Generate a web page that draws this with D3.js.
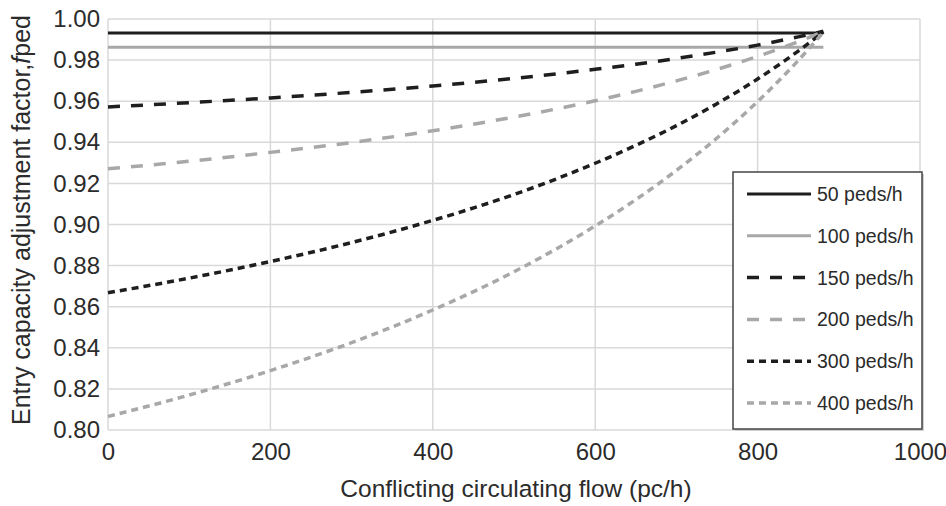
<!DOCTYPE html>
<html>
<head>
<meta charset="utf-8">
<script src="https://cdn.jsdelivr.net/npm/d3@7"></script>
<style>
  html, body { margin: 0; padding: 0; background: #fff; }
  svg { display: block; font-family: "Liberation Sans", Arial, sans-serif; }
</style>
</head>
<body>
<svg id="chart" width="946" height="506"></svg>
<script>
// ---- data ----
const flows = [0, 100, 200, 300, 400, 500, 600, 650, 700, 750, 800, 850, 881];
const flowsFlat = [0, 881];
const peds50  = [0.9932, 0.9932];
const peds100 = [0.9863, 0.9863];
const peds150 = [0.9572, 0.9593, 0.9616, 0.9643, 0.9674, 0.9711, 0.9755, 0.9780, 0.9808, 0.9839, 0.9873, 0.9913, 0.9940];
const peds200 = [0.9271, 0.9308, 0.9351, 0.9399, 0.9456, 0.9523, 0.9602, 0.9648, 0.9699, 0.9755, 0.9818, 0.9890, 0.9939];
const peds300 = [0.8668, 0.8739, 0.8820, 0.8912, 0.9020, 0.9146, 0.9298, 0.9385, 0.9481, 0.9588, 0.9708, 0.9844, 0.9937];
const peds400 = [0.8066, 0.8170, 0.8289, 0.8425, 0.8584, 0.8770, 0.8993, 0.9121, 0.9263, 0.9421, 0.9598, 0.9798, 0.9935];
const seriesNames = ["50 peds/h", "100 peds/h", "150 peds/h", "200 peds/h", "300 peds/h", "400 peds/h"];
const xTicks = [0, 200, 400, 600, 800, 1000];
const yTicks = [0.80, 0.82, 0.84, 0.86, 0.88, 0.90, 0.92, 0.94, 0.96, 0.98, 1.00];

(function () {
// ---- styles ----
const styles = [
  { color: "#1e1e1e", width: 3,   dash: null },
  { color: "#a8a8a8", width: 3,   dash: null },
  { color: "#1e1e1e", width: 3.5, dash: "12,11" },
  { color: "#a8a8a8", width: 3.5, dash: "12,11" },
  { color: "#1e1e1e", width: 3.5, dash: "7,5" },
  { color: "#a8a8a8", width: 3.5, dash: "7,5" }
];
const seriesData = [
  [flowsFlat, peds50], [flowsFlat, peds100], [flows, peds150],
  [flows, peds200], [flows, peds300], [flows, peds400]
];

const svg = d3.select("#chart");
const pL = 108, pR = 920, pT = 19, pB = 430;
const x = d3.scaleLinear().domain([0, 1000]).range([pL, pR]);
const y = d3.scaleLinear().domain([0.80, 1.00]).range([pB, pT]);
const textColor = "#2b2b2b";
const gridColor = "#d9d9d9";

// gridlines
svg.append("g").selectAll("line").data(yTicks).join("line")
  .attr("x1", pL).attr("x2", pR)
  .attr("y1", d => y(d)).attr("y2", d => y(d))
  .attr("stroke", gridColor).attr("stroke-width", 1.5);
svg.append("g").selectAll("line").data(xTicks).join("line")
  .attr("x1", d => x(d)).attr("x2", d => x(d))
  .attr("y1", pT).attr("y2", pB)
  .attr("stroke", gridColor).attr("stroke-width", 1.5);

// axes
const xAxis = svg.append("g").attr("transform", `translate(0,${pB})`)
  .call(d3.axisBottom(x).tickValues(xTicks).tickSize(0).tickPadding(13).tickFormat(d3.format("d")));
xAxis.select(".domain").remove();
xAxis.selectAll("text").attr("fill", textColor).attr("font-size", 24)
  .attr("font-family", "Liberation Sans, Arial, sans-serif");

const yAxis = svg.append("g").attr("transform", `translate(${pL},0)`)
  .call(d3.axisLeft(y).tickValues(yTicks).tickSize(0).tickPadding(8).tickFormat(d3.format(".2f")));
yAxis.select(".domain").remove();
yAxis.selectAll("text").attr("fill", textColor).attr("font-size", 24)
  .attr("font-family", "Liberation Sans, Arial, sans-serif");

// series lines
const line = d3.line().x(d => x(d[0])).y(d => y(d[1])).curve(d3.curveMonotoneX);
seriesData.forEach((s, i) => {
  const pts = s[0].map((v, k) => [v, s[1][k]]);
  svg.append("path").datum(pts)
    .attr("d", line)
    .attr("fill", "none")
    .attr("stroke", styles[i].color)
    .attr("stroke-width", styles[i].width)
    .attr("stroke-dasharray", styles[i].dash);
});

// axis titles
svg.append("text")
  .attr("x", 516).attr("y", 497)
  .attr("text-anchor", "middle").attr("font-size", 24.5).attr("fill", textColor)
  .text("Conflicting circulating flow (pc/h)");

const yt = svg.append("text")
  .attr("transform", "translate(30,220) rotate(-90)")
  .attr("text-anchor", "middle").attr("font-size", 25).attr("fill", textColor);
yt.append("tspan").text("Entry capacity adjustment factor,");
yt.append("tspan").attr("font-style", "italic").text("f");
yt.append("tspan").text("ped");

// legend
const lg = svg.append("g");
lg.append("rect").attr("x", 735).attr("y", 174).attr("width", 189).attr("height", 257)
  .attr("fill", "#cfcfcf");
lg.append("rect").attr("x", 733).attr("y", 172).attr("width", 189).attr("height", 257)
  .attr("fill", "#fff").attr("stroke", "#444").attr("stroke-width", 1.5);
seriesNames.forEach((name, i) => {
  const cy = 194 + i * 41.8;
  lg.append("line").attr("x1", 747).attr("x2", 811).attr("y1", cy).attr("y2", cy)
    .attr("stroke", styles[i].color).attr("stroke-width", styles[i].width)
    .attr("stroke-dasharray", styles[i].dash);
  lg.append("text").attr("x", 817).attr("y", cy + 7)
    .attr("font-size", 19.5).attr("fill", textColor).text(name);
});
})();
</script>
</body>
</html>
